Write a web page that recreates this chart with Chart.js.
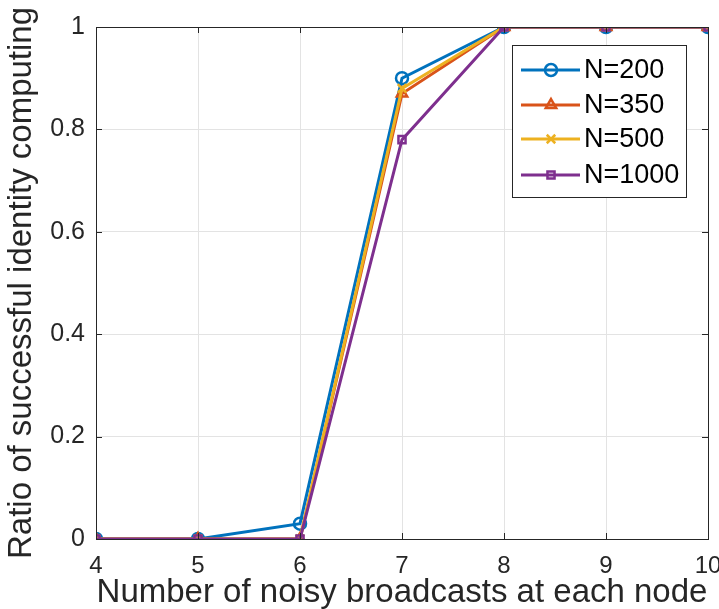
<!DOCTYPE html>
<html>
<head>
<meta charset="utf-8">
<script src="https://cdn.jsdelivr.net/npm/chart.js@4"></script>
<style>
  html, body { margin: 0; padding: 0; background: #fff; }
  #wrap { width: 719px; height: 609px; }
</style>
</head>
<body>
<div id="wrap"><canvas id="lineChart" width="719" height="609"></canvas></div>
<script>
// 데이터
var broadcasts = [4, 5, 6, 7, 8, 9, 10];
var n200 = [0, 0, 0.03, 0.90, 1, 1, 1];
var n350 = [0, 0, 0, 0.87, 1, 1, 1];
var n500 = [0, 0, 0, 0.88, 1, 1, 1];
var n1000 = [0, 0, 0, 0.78, 1, 1, 1];
var seriesNames = ['N=200', 'N=350', 'N=500', 'N=1000'];
var seriesColors = ['#0072BD', '#D95319', '#EDB120', '#7E2F8E'];
var seriesMarkers = ['circle', 'triangle', 'crossRot', 'rect'];
var yTicks = [0, 0.2, 0.4, 0.6, 0.8, 1];

var fontName = '"Liberation Sans", Arial, Helvetica, sans-serif';
var textColor = '#262626';

function toPoints(vals) {
    return vals.map(function (v, i) { return { x: broadcasts[i], y: v }; });
}

var allSeries = [n200, n350, n500, n1000];
var datasets = allSeries.map(function (vals, i) {
    return {
        label: seriesNames[i],
        data: toPoints(vals),
        borderColor: seriesColors[i],
        backgroundColor: seriesColors[i],
        borderWidth: 3,
        pointStyle: seriesMarkers[i],
        pointRadius: seriesMarkers[i] == 'rect' ? 5 : 6,
        pointBorderWidth: 2.5,
        pointBackgroundColor: 'rgba(0,0,0,0)',
        pointBorderColor: seriesColors[i],
        tension: 0,
        order: allSeries.length - i //뒤 시리즈가 위에 그려지도록
    };
});

// 박스, 눈금, 범례를 직접 그림 (MATLAB 스타일)
var matlabLook = {
    id: 'matlabLook',
    afterDraw: function (chart) {
        var ctx = chart.ctx;
        var a = chart.chartArea;
        var xs = chart.scales.x, ys = chart.scales.y;
        ctx.save();
        ctx.strokeStyle = textColor;
        ctx.lineWidth = 1;
        ctx.strokeRect(a.left + 0.5, a.top + 0.5, a.right - a.left, a.bottom - a.top);
        // 안쪽 눈금
        broadcasts.forEach(function (b) {
            var px = Math.round(xs.getPixelForValue(b)) + 0.5;
            ctx.beginPath();
            ctx.moveTo(px, a.bottom); ctx.lineTo(px, a.bottom - 6);
            ctx.moveTo(px, a.top); ctx.lineTo(px, a.top + 6);
            ctx.stroke();
        });
        yTicks.forEach(function (t) {
            var py = Math.round(ys.getPixelForValue(t)) + 0.5;
            ctx.beginPath();
            ctx.moveTo(a.left, py); ctx.lineTo(a.left + 6, py);
            ctx.moveTo(a.right, py); ctx.lineTo(a.right - 6, py);
            ctx.stroke();
        });

        // 범례
        var bx = 512, by = 45, bw = 174, bh = 152;
        ctx.fillStyle = '#ffffff';
        ctx.fillRect(bx, by, bw, bh);
        ctx.strokeStyle = textColor;
        ctx.strokeRect(bx + 0.5, by + 0.5, bw, bh);
        var rows = [70, 105, 139, 175];
        ctx.font = '27px ' + fontName;
        ctx.textBaseline = 'middle';
        ctx.textAlign = 'left';
        datasets.forEach(function (ds, i) {
            var y = rows[i];
            ctx.strokeStyle = ds.borderColor;
            ctx.lineWidth = 3;
            ctx.beginPath();
            ctx.moveTo(521, y); ctx.lineTo(580, y);
            ctx.stroke();
            Chart.helpers.drawPoint(ctx, {
                pointStyle: ds.pointStyle,
                radius: ds.pointRadius,
                borderWidth: 2.5,
                rotation: 0
            }, 551, y);
            ctx.fillStyle = '#000000';
            ctx.fillText(ds.label, 584, y + 1);
        });
        ctx.restore();
    }
};

// drawPoint는 ctx의 stroke/fill 스타일을 사용
var origDraw = Chart.helpers.drawPoint;
Chart.helpers.drawPoint = function (ctx, opts, x, y) {
    ctx.save();
    ctx.lineWidth = opts.borderWidth;
    ctx.fillStyle = 'rgba(0,0,0,0)';
    origDraw(ctx, opts, x, y);
    ctx.restore();
};

var config = {
    type: 'line',
    data: { datasets: datasets },
    options: {
        responsive: false,
        animation: false,
        layout: { padding: { left: 0, right: 11, top: 27, bottom: 0 } },
        plugins: {
            legend: { display: false },
            tooltip: { enabled: false }
        },
        scales: {
            x: {
                type: 'linear',
                min: 4,
                max: 10,
                afterBuildTicks: function (scale) {
                    scale.ticks = broadcasts.map(function (v) { return { value: v }; });
                },
                afterFit: function (scale) {
                    scale.height = 70;
                    scale.paddingLeft = 0;
                    scale.paddingRight = 0;
                },
                grid: { color: '#e3e3e3', drawTicks: false },
                border: { display: false },
                ticks: {
                    color: textColor,
                    font: { family: fontName, size: 24 },
                    padding: 13,
                    maxRotation: 0
                },
                title: {
                    display: true,
                    text: 'Number of noisy broadcasts at each node',
                    color: textColor,
                    font: { family: fontName, size: 33 },
                    padding: { top: 0, bottom: -4 }
                }
            },
            y: {
                min: 0,
                max: 1,
                afterBuildTicks: function (scale) {
                    scale.ticks = yTicks.map(function (v) { return { value: v }; });
                },
                afterFit: function (scale) {
                    scale.width = 96;
                    scale.paddingTop = 0;
                    scale.paddingBottom = 0;
                },
                grid: { color: '#e3e3e3', drawTicks: false },
                border: { display: false },
                ticks: {
                    color: textColor,
                    font: { family: fontName, size: 25 },
                    padding: 11,
                    callback: function (v) { return String(Math.round(v * 10) / 10); }
                },
                title: {
                    display: true,
                    text: 'Ratio of successful identity computing',
                    color: textColor,
                    font: { family: fontName, size: 33 },
                    padding: { top: 2, bottom: 4 }
                }
            }
        }
    },
    plugins: [matlabLook]
};

var canvas = document.getElementById('lineChart');
var lineChart = new Chart(canvas, config);
</script>
</body>
</html>
